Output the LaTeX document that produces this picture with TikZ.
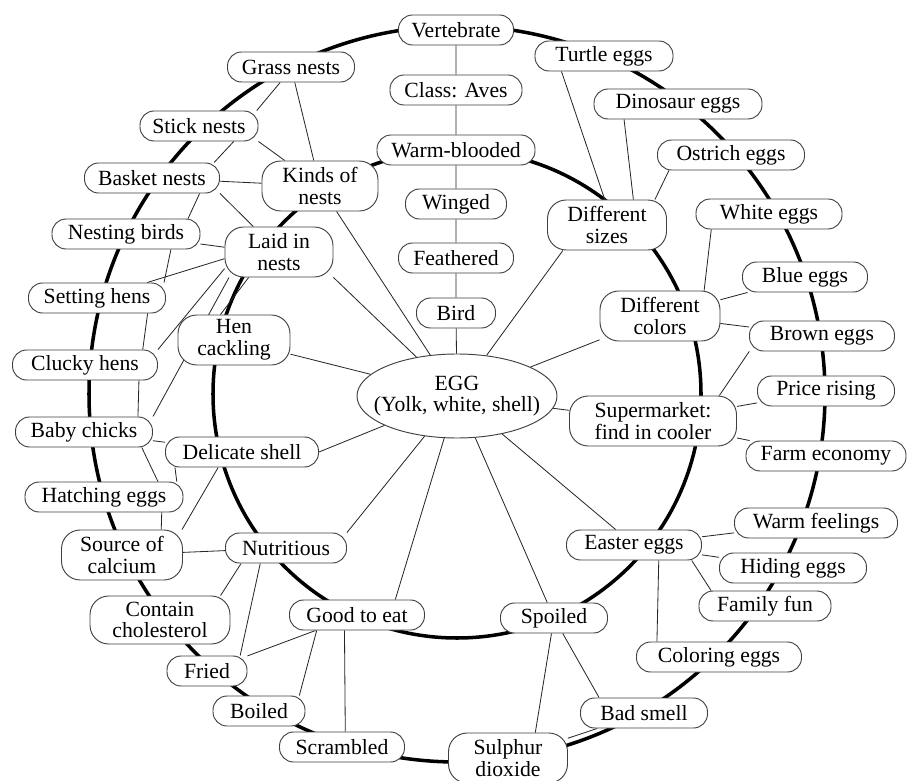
\documentclass[tikz,border=0pt]{standalone}
\usepackage{fontspec}
\setmainfont{Liberation Serif}
\usetikzlibrary{shapes.geometric, backgrounds}

\begin{document}
\begin{tikzpicture}[x=0.3mm, y=-0.3mm, font=\fontsize{18.5}{18.5}\selectfont,
    box/.style={draw=black!75, line width=0.8pt, fill=white, rectangle, rounded corners=12pt,
                align=center, minimum height=9mm, inner xsep=1mm, inner ysep=0.3mm},
    tall/.style={box, minimum height=15mm, rounded corners=16pt},
    ring/.style={line width=3pt},
    link/.style={line width=0.7pt, black!85}]
  \useasboundingbox (0,0) rectangle (919,781);

  \node[draw=black!75, line width=0.8pt, fill=white, ellipse, minimum width=60mm, minimum height=25.2mm,
        label={[align=center]center:EGG\\(Yolk, white, shell)}] (egg) at (457,396) {};

  \node[box, minimum width=34.5mm] (vert) at (456,30) {Vertebrate};
  \node[box, minimum width=39.6mm] (aves) at (456,90) {Class: Aves};
  \node[box, minimum width=47.4mm] (warm) at (456,150) {Warm-blooded};
  \node[box, minimum width=30.3mm] (winged) at (456,204) {Winged};
  \node[box, minimum width=34.5mm] (feath) at (456,258) {Feathered};
  \node[box, minimum width=23.7mm] (bird) at (456,313) {Bird};

  \node[box, minimum width=41.4mm] (turtle) at (604,56) {Turtle eggs};
  \node[box, minimum width=50.4mm] (dino) at (678,104) {Dinosaur eggs};
  \node[box, minimum width=44.1mm] (ostrich) at (731,155) {Ostrich eggs};
  \node[tall, minimum width=35.7mm] (sizes) at (607,225) {Different\\sizes};
  \node[box, minimum width=43.8mm] (white) at (769,214) {White eggs};
  \node[box, minimum width=37.5mm] (blue) at (805,277) {Blue eggs};
  \node[tall, minimum width=36mm] (colors) at (660,316) {Different\\colors};
  \node[box, minimum width=43.5mm] (brown) at (822,336) {Brown eggs};
  \node[box, minimum width=41.1mm] (price) at (826,391) {Price rising};
  \node[tall, minimum width=50.1mm] (super) at (653,421) {Supermarket:\\find in cooler};
  \node[box, minimum width=48mm] (farm) at (826,456) {Farm economy};
  \node[box, minimum width=48.9mm] (warmf) at (816,523) {Warm feelings};
  \node[box, minimum width=40.5mm] (easter) at (634,545) {Easter eggs};
  \node[box, minimum width=44.1mm] (hiding) at (793,568) {Hiding eggs};
  \node[box, minimum width=39.6mm] (family) at (765,606) {Family fun};
  \node[box, minimum width=32.1mm] (spoiled) at (554,618) {Spoiled};
  \node[box, minimum width=49.5mm] (coloring) at (719,657) {Coloring eggs};
  \node[box, minimum width=38.1mm] (smell) at (644,713) {Bad smell};
  \node[tall, minimum width=35.7mm] (sulphur) at (508,758) {Sulphur\\dioxide};

  \node[box, minimum width=37.5mm] (scram) at (342,747) {Scrambled};
  \node[box, minimum width=27.6mm] (boiled) at (259,711) {Boiled};
  \node[box, minimum width=24mm] (fried) at (207,671) {Fried};
  \node[box, minimum width=40.5mm] (good) at (357,615) {Good to eat};
  \node[tall, minimum width=42mm, minimum height=14.4mm] (chol) at (160,620) {Contain\\cholesterol};
  \node[box, minimum width=36.3mm] (nutri) at (286,548) {Nutritious};
  \node[tall, minimum width=36.3mm] (calcium) at (122,555) {Source of\\calcium};
  \node[box, minimum width=47.4mm] (hatch) at (104,497) {Hatching eggs};
  \node[box, minimum width=45.9mm] (shell) at (242,452) {Delicate shell};
  \node[box, minimum width=41.1mm] (baby) at (84,432) {Baby chicks};
  \node[box, minimum width=43.5mm] (clucky) at (85,365) {Clucky hens};
  \node[tall, minimum width=33.6mm] (hen) at (234,340) {Hen\\cackling};
  \node[box, minimum width=41.1mm] (setting) at (97,298) {Setting hens};
  \node[tall, minimum width=32.4mm] (laid) at (279,252) {Laid in\\nests};
  \node[box, minimum width=44.4mm] (nesting) at (126,234) {Nesting birds};
  \node[tall, minimum width=34.8mm] (kinds) at (320,186) {Kinds of\\nests};
  \node[box, minimum width=40.5mm] (basket) at (152,178) {Basket nests};
  \node[box, minimum width=35.4mm] (stick) at (199,126) {Stick nests};
  \node[box, minimum width=38.1mm] (grass) at (291,67) {Grass nests};

  \begin{scope}[on background layer]
    \draw[ring] (457,394) circle[radius=244];
    \draw[ring] (457,394) circle[radius=368];

    \draw[link] (vert) -- (aves) -- (warm) -- (winged) -- (feath) -- (bird) -- (egg);
    \draw[link] (egg) -- (kinds) (laid.south east) -- (egg) (egg) -- (hen) (shell.east) -- (egg)
                (nutri.north east) -- (egg) (good.22) -- (egg) (egg) -- (spoiled) (egg) -- (easter)
                (egg) -- (super) (egg) -- (colors) (sizes.210) -- (egg);

    \draw[link] (kinds) -- (grass) (stick.south east) -- (kinds) (basket) -- (kinds);
    \draw[link] (basket.south east) -- (laid) (nesting) -- (laid.175) (setting) -- (laid.187)
                (clucky.north east) -- (laid.197) (laid.220) -- (hen.118)
                (laid.207) -- (baby.north east);
    \draw[link] (grass.235) -- (stick.15) (stick.336) -- (basket.14) (basket.342) -- (nesting.14)
                (nesting.341) -- (setting.13) (setting.343) -- (clucky.15) (clucky.344) -- (baby.16)
                (baby.345) -- (hatch.16) (hatch.345) -- (calcium.33);
    \draw[link] (shell) -- (baby) (shell.193) -- (hatch.12) (shell.213) -- (calcium.23);
    \draw[link] (calcium) -- (nutri) (nutri.199) -- (chol.22) (nutri.211) -- (fried.25);
    \draw[link] (good) -- (fried) (good.201) -- (boiled.21) (good.231) -- (scram.78);
    \draw[link] (spoiled) -- (sulphur.43) (spoiled) -- (smell.161) (smell) -- (sulphur);
    \draw[link] (easter) -- (warmf) (easter) -- (hiding) (easter.345) -- (family.164)
                (easter.328) -- (coloring.166);
    \draw[link] (super) -- (price) (super) -- (farm) (super.21) -- (brown.192);
    \draw[link] (colors.30) -- (white.195) (colors) -- (blue) (colors) -- (brown);
    \draw[link] (sizes.95) -- (turtle.200) (sizes.44) -- (dino.196) (sizes.28) -- (ostrich.194);
  \end{scope}
\end{tikzpicture}
\end{document}
